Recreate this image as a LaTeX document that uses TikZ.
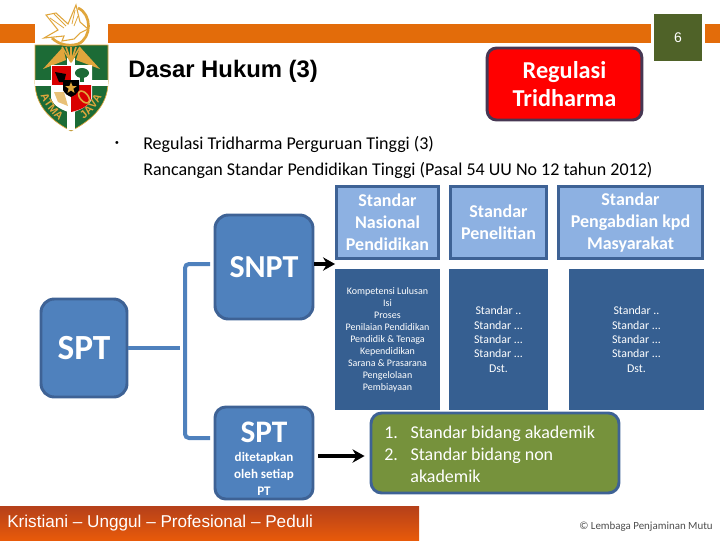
\documentclass[tikz,border=0pt]{standalone}
\usepackage{fontspec}
\setmainfont{Carlito}
\newfontfamily\arialfont{Liberation Sans}
\usetikzlibrary{shapes.geometric,arrows.meta,decorations.text}
\definecolor{bandorange}{HTML}{E36C0A}
\definecolor{pagegreen}{HTML}{4F6228}
\definecolor{paleblue}{HTML}{8DB1E2}
\definecolor{midblue}{HTML}{4F81BD}
\definecolor{darkblue}{HTML}{365F91}
\definecolor{edgeblue}{HTML}{3E6295}
\definecolor{olive}{HTML}{76923C}
\definecolor{shieldgreen}{HTML}{1C6B36}
\definecolor{logogold}{HTML}{E0A63C}
\definecolor{footertop}{HTML}{B5401A}
\definecolor{footerbot}{HTML}{E85A0A}
\tikzset{
  headbox/.style={draw=edgeblue, line width=2.2pt, fill=paleblue, text=white, align=center, inner sep=0pt, font=\fontsize{13.5}{16.5}\selectfont\bfseries},
  listbox/.style={fill=darkblue, text=white, align=center, inner sep=0pt},
  sptbox/.style={draw=edgeblue, line width=2.2pt, fill=midblue, text=white, align=center, rounded corners=10pt, inner sep=0pt, font=\bfseries},
  barline/.style={draw=midblue, line width=3pt, rounded corners=3pt},
  blackarrow/.style={draw=black, line width=2.4pt, -{Stealth[length=9pt,width=10pt]}}
}
\begin{document}
\begin{tikzpicture}[x=0.75pt, y=-0.75pt]
        \useasboundingbox (0,0) rectangle (720,540);
        % Top band
        \fill[bandorange] (0,24) rectangle (651,43);
        \fill[bandorange] (705,24) rectangle (720,43);
        \fill[white] (35,0) rectangle (108,45);
        \node[fill=pagegreen, text=white, minimum width=36pt, minimum height=35.25pt, inner sep=0pt, font=\arialfont\fontsize{10.5}{12}\selectfont] (page) at (678,37.5) {6};

        % Logo
        \fill[shieldgreen, draw=logogold, line width=0.5pt] (35,45) -- (108,45) -- (108,82) .. controls (108,108) and (88,122) .. (71,131) .. controls (54,122) and (35,108) .. (35,82) -- cycle;
        \fill[white] (67,58) rectangle (75,130);
        \fill[white] (35,80) rectangle (108,86);
        \fill[logogold] (43,69) -- (63,47) -- (66,60) -- cycle;
        \fill[logogold] (100,69) -- (80,47) -- (76,60) -- cycle;
        \foreach \rayx in {62,66,71,76,80} {
            \draw[logogold, line width=1.2pt] (\rayx,47) -- (71,62);
        }
        \draw[logogold, line width=2pt] (78,8) .. controls (92,14) and (92,38) .. (78,44) .. controls (68,47) and (58,44) .. (52,38);
        \fill[white, draw=logogold, line width=0.8pt] (46,15) -- (56,13) -- (68,24) -- (76,5) -- (80,22) -- (88,29) -- (80,33) -- (74,39) -- (62,41) -- (64,36) -- (44,38) -- (58,30) -- cycle;
        \draw[logogold, line width=0.6pt] (50,18) -- (64,28) (54,14) -- (66,26) (75,10) -- (72,24) (78,16) -- (74,26);
        \fill[white] (51,65) -- (92,65) -- (92,98) .. controls (90,106) and (80,110) .. (71,113) .. controls (62,110) and (53,106) .. (51,98) -- cycle;
        \fill[red!85!black] (52,66) rectangle (71,85);
        \fill[red!85!black] (71,112) .. controls (80,110) and (90,106) .. (91,98) -- (91,85) -- (71,85) -- cycle;
        \fill[black] (55,72) -- (66,74) -- (64,82) -- (59,82) -- cycle;
        \fill[shieldgreen] (82,73) ellipse (7 and 5);
        \fill[shieldgreen] (80,74) rectangle (84,82);
        \fill[logogold!70!white] (54,92) -- (64,92) -- (68,106) -- (58,102) -- cycle;
        \fill[black] (63,80) -- (79,80) -- (79,90) .. controls (77,94) and (74,96) .. (71,97) .. controls (68,96) and (65,94) .. (63,90) -- cycle;
        \node[star, star points=5, star point ratio=2.4, fill=logogold, minimum size=9pt, inner sep=0pt] (logostar) at (71,88) {};
        \draw[logogold, line width=1.2pt, rotate around={-50:(84,97)}] (84,97) ellipse (7 and 4);
        \path[decorate, decoration={text along path, text align=center, text color=logogold, text={|\arialfont\bfseries\fontsize{8.2}{9}\selectfont|ATMA}}] (38,88) .. controls (41,102) and (52,117) .. (66,125);
        \path[decorate, decoration={text along path, text align=center, text color=logogold, text={|\arialfont\bfseries\fontsize{8.2}{9}\selectfont|JAVA}}] (76,125) .. controls (90,117) and (102,102) .. (105,88);

        % Title and text
        \node[anchor=west, inner sep=0pt, font=\arialfont\fontsize{17.9}{20}\selectfont] (title) at (128,71) {\textbf{Dasar Hukum (3)}};
        \node[draw=edgeblue!80!red!70!black, line width=2.2pt, fill=red, text=white, align=center, rounded corners=7pt, minimum width=116pt, minimum height=54pt, inner sep=0pt, font=\fontsize{18.2}{21}\selectfont\bfseries] (regulasi) at (564.5,84) {Regulasi\\Tridharma};
        \node[anchor=center, inner sep=0pt, font=\arialfont\footnotesize] (bullet) at (117,144) {•};
        \node[anchor=west, inner sep=0pt, align=left, font=\fontsize{13.5}{19.5}\selectfont] (intro) at (143,157.5) {Regulasi Tridharma Perguruan Tinggi (3)\\Rancangan Standar Pendidikan Tinggi (Pasal 54 UU No 12 tahun 2012)};

        % Standar boxes
        \node[headbox, minimum width=76.5pt, minimum height=54pt] (nasional) at (387.5,222.5) {Standar\\Nasional\\Pendidikan};
        \node[headbox, minimum width=72pt, minimum height=54pt] (penelitian) at (498.5,222.5) {Standar\\Penelitian};
        \node[headbox, minimum width=108pt, minimum height=54pt] (pengabdian) at (630.5,222.5) {Standar\\Pengabdian kpd\\Masyarakat};

        \node[listbox, minimum width=78.75pt, minimum height=105.75pt, font=\fontsize{7.5}{9}\selectfont] (isi) at (387.5,339.5) {Kompetensi Lulusan\\Isi\\Proses\\Penilaian Pendidikan\\Pendidik \& Tenaga\\Kependidikan\\Sarana \& Prasarana\\Pengelolaan\\Pembiayaan};
        \node[listbox, minimum width=74.25pt, minimum height=105.75pt, font=\fontsize{8.9}{10.8}\selectfont] (isi2) at (498.5,339.5) {Standar ..\\Standar ...\\Standar ...\\Standar ...\\Dst.};
        \node[listbox, minimum width=101.25pt, minimum height=105.75pt, font=\fontsize{8.9}{10.8}\selectfont] (isi3) at (636.5,339.5) {Standar ..\\Standar ...\\Standar ...\\Standar ...\\Dst.};

        % SPT boxes
        \node[sptbox, minimum width=64.5pt, minimum height=73.5pt, font=\fontsize{26.5}{28}\selectfont\bfseries] (spt) at (84,348) {SPT};
        \node[sptbox, minimum width=73.5pt, minimum height=78pt, font=\fontsize{24}{26}\selectfont\bfseries] (snpt) at (264,267) {SNPT};
        \node[sptbox, minimum width=73.5pt, minimum height=69pt, rounded corners=8pt, font=\fontsize{9.8}{12.8}\selectfont\bfseries] (sptb) at (264,453) {\rule{0pt}{24pt}{\fontsize{23.5}{22}\selectfont SPT}\\[1.5pt]ditetapkan\\oleh setiap\\PT};

        \node[draw=edgeblue, line width=2.2pt, fill=olive, text=white, rounded corners=8pt, minimum width=186pt, minimum height=60pt, inner sep=0pt] (akademik) at (495,453) {};
        \node[anchor=north west, inner sep=0pt, text=white, align=left, font=\fontsize{13.5}{16.5}\selectfont] (akademiktext) at (384,426) {1.\hspace{9.5pt}Standar bidang akademik\\2.\hspace{9.5pt}Standar bidang non\\\hspace{19.6pt}akademik};

        % Connectors
        \coordinate (busleft) at (180,348);
        \coordinate (bustop) at (210,264);
        \coordinate (busbot) at (210,438);
        \draw[barline] (spt.east) -- (busleft);
        \draw[barline] (bustop) -- (185,264) -- (185,438) -- (busbot);
        \draw[blackarrow] (snpt.east |- 0,264) -- (nasional.west |- 0,264);
        \draw[blackarrow, shorten >=3.75pt] (318,456) -- (akademik.west |- 0,456);

        % Footer
        \node[top color=footertop, bottom color=footerbot, minimum width=314.25pt, minimum height=25.5pt, inner sep=0pt] (footer) at (209.5,523) {};
        \node[anchor=west, inner sep=0pt, text=white, font=\arialfont\fontsize{12.85}{14}\selectfont] (motto) at (7,523) {Kristiani – Unggul – Profesional – Peduli};
        \node[anchor=east, inner sep=0pt, text=black!70, font=\fontsize{8.2}{10}\selectfont] (lpm) at (713,527) {© Lembaga Penjaminan Mutu};
    \end{tikzpicture}
\end{document}
